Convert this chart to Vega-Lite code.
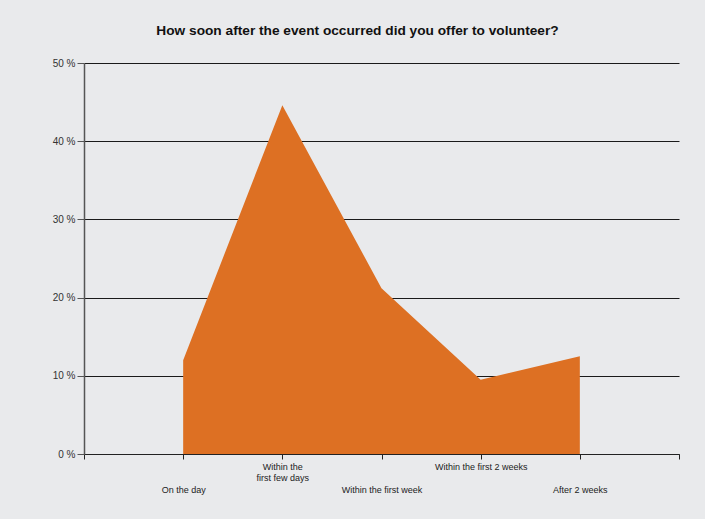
{
  "$schema": "https://vega.github.io/schema/vega-lite/v6.json",
  "width": 595,
  "height": 391,
  "autosize": {"type": "none"},
  "padding": {"left": 84, "top": 63, "right": 26, "bottom": 65},
  "background": "#e9eaec",
  "title": {
    "text": "How soon after the event occurred did you offer to volunteer?",
    "font": "Liberation Sans",
    "fontSize": 13.7,
    "fontWeight": "bold",
    "color": "#111111",
    "anchor": "middle",
    "dx": -24,
    "offset": 20
  },
  "data": {
    "values": [
      {"pos": 1, "timing": "On the day", "percent": 12.0},
      {"pos": 2, "timing": "Within the first few days", "percent": 44.6},
      {"pos": 3, "timing": "Within the first week", "percent": 21.2},
      {"pos": 4, "timing": "Within the first 2 weeks", "percent": 9.5},
      {"pos": 5, "timing": "After 2 weeks", "percent": 12.5}
    ]
  },
  "mark": {"type": "area", "color": "#dd7023", "opacity": 1},
  "encoding": {
    "x": {
      "field": "pos",
      "type": "quantitative",
      "scale": {"domain": [0, 6], "nice": false, "zero": false},
      "axis": {
        "title": null,
        "values": [0, 1, 2, 3, 4, 5, 6],
        "grid": false,
        "domainColor": "#222222",
        "domainWidth": 1,
        "tickColor": "#222222",
        "tickSize": 5,
        "labelFont": "Liberation Sans",
        "labelFontSize": 9,
        "labelColor": "#222222",
        "labelLineHeight": 11,
        "labelBaseline": "top",
        "labelPadding": {"condition": {"test": "datum.value % 2 == 1", "value": 26}, "value": 3},
        "labelExpr": "datum.value == 1 ? 'On the day' : datum.value == 2 ? ['Within the', 'first few days'] : datum.value == 3 ? 'Within the first week' : datum.value == 4 ? 'Within the first 2 weeks' : datum.value == 5 ? 'After 2 weeks' : ''",
        "labelOverlap": false,
        "labelFlush": false
      }
    },
    "y": {
      "field": "percent",
      "type": "quantitative",
      "scale": {"domain": [0, 50], "nice": false},
      "axis": {
        "title": null,
        "values": [0, 10, 20, 30, 40, 50],
        "grid": true,
        "gridColor": "#1a1a1a",
        "gridWidth": 1,
        "gridOpacity": 1,
        "domainColor": "#555555",
        "domainWidth": 1.5,
        "tickColor": "#555555",
        "tickSize": 7,
        "labelPadding": 2,
        "labelFont": "Liberation Sans",
        "labelFontSize": 10,
        "labelColor": "#333333",
        "labelExpr": "datum.value + ' %'"
      }
    }
  },
  "config": {
    "view": {"stroke": null},
    "axis": {"zindex": 0}
  }
}
